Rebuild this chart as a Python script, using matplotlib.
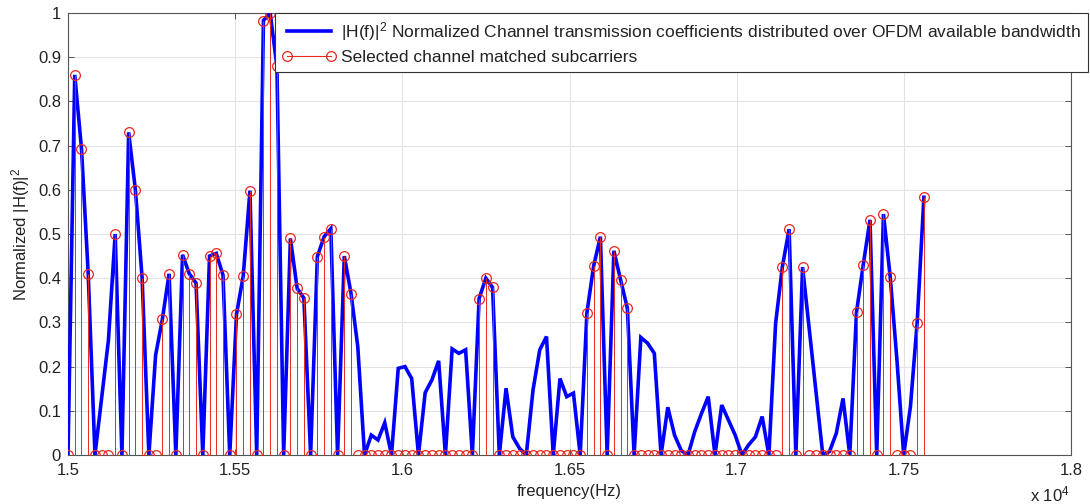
import numpy as np
import matplotlib
matplotlib.use("Agg")
import matplotlib.pyplot as plt
from matplotlib.lines import Line2D

# ---------------- data ----------------
freq_start = 15000.0      # Hz, first subcarrier
freq_stop = 17560.0       # Hz, last subcarrier
n_subcarriers = 128

h2 = [0, 0.86, 0.693, 0.41, 0, 0.13, 0.26, 0.50, 0, 0.73, 0.60, 0.40,
      0, 0.226, 0.307, 0.41, 0, 0.453, 0.41, 0.389, 0, 0.45, 0.456, 0.407,
      0, 0.318, 0.405, 0.598, 0, 0.983, 1.0, 0.879, 0, 0.49, 0.377, 0.355,
      0, 0.449, 0.494, 0.512, 0, 0.45, 0.365, 0.245, 0, 0.045, 0.034, 0.073,
      0, 0.196, 0.2, 0.173, 0, 0.141, 0.170, 0.213, 0, 0.24, 0.230, 0.238,
      0, 0.354, 0.40, 0.379, 0, 0.151, 0.041, 0.015, 0, 0.147, 0.238, 0.268,
      0, 0.173, 0.132, 0.14, 0, 0.322, 0.428, 0.494, 0, 0.462, 0.396, 0.332,
      0, 0.266, 0.253, 0.23, 0, 0.108, 0.045, 0.01, 0, 0.053, 0.094, 0.132,
      0, 0.113, 0.079, 0.045, 0, 0.023, 0.041, 0.087, 0, 0.298, 0.426, 0.511,
      0, 0.425, 0.283, 0.142, 0, 0.008, 0.049, 0.128, 0, 0.323, 0.43, 0.532,
      0, 0.545, 0.403, 0.215, 0, 0.109, 0.299, 0.583]

selected = [1, 2, 3, 7, 9, 10, 11, 14, 15, 17, 18, 19, 21, 22, 23, 25, 26, 27,
            29, 30, 31, 33, 34, 35, 37, 38, 39, 41, 42, 61, 62, 63, 77, 78, 79,
            81, 82, 83, 106, 107, 109, 117, 118, 119, 121, 122, 126, 127]

xtick_values = [15000, 15500, 16000, 16500, 17000, 17500, 18000]
xtick_labels = ["1.5", "1.55", "1.6", "1.65", "1.7", "1.75", "1.8"]
ytick_values = [0, 0.1, 0.2, 0.3, 0.4, 0.5, 0.6, 0.7, 0.8, 0.9, 1.0]
ytick_labels = ["0", "0.1", "0.2", "0.3", "0.4", "0.5", "0.6", "0.7", "0.8", "0.9", "1"]

label_line = r"|H(f)|$^2$ Normalized Channel transmission coefficients distributed over OFDM available bandwidth"
label_stem = "Selected channel matched subcarriers"

# ---------------- plot ----------------
plt.rcParams['font.family'] = ['Liberation Sans', 'DejaVu Sans']
plt.rcParams['mathtext.fontset'] = 'custom'
plt.rcParams['mathtext.rm'] = 'Liberation Sans'
plt.rcParams['mathtext.it'] = 'Liberation Sans'

W, H = 1090, 504
fig = plt.figure(figsize=(W / 100, H / 100), dpi=100)
left, right, top, bottom = 68, 1071, 13, 455
ax = fig.add_axes([left / W, 1 - bottom / H, (right - left) / W, (bottom - top) / H])

freqs = np.linspace(freq_start, freq_stop, n_subcarriers)
h2 = np.array(h2)
stem_vals = np.zeros_like(h2)
stem_vals[selected] = h2[selected]

ax.plot(freqs, h2, color=(0, 0, 1), lw=2.6, zorder=3, solid_joinstyle='miter')

red = '#e8291f'
ax.vlines(freqs, 0, stem_vals, color=red, lw=0.7, zorder=4)
ax.plot(freqs, stem_vals, ls='none', marker='o', ms=7, mfc='none', mec=red, mew=0.9, zorder=5)

ax.set_xlim(15000, 18000)
ax.set_ylim(0, 1)
ax.set_xticks(xtick_values)
ax.set_xticklabels(xtick_labels)
ax.set_yticks(ytick_values)
ax.set_yticklabels(ytick_labels)

ax.grid(True, color='#e3e3e3', lw=0.8, zorder=0)
ax.set_axisbelow(True)
for s in ax.spines.values():
    s.set_color('#555555')
    s.set_linewidth(0.8)
ax.tick_params(direction='in', length=4, width=0.7, color='#555555',
               labelsize=12, labelcolor='#222222', top=True, right=True)
ax.tick_params(axis='x', pad=6)
ax.tick_params(axis='y', pad=5)

ax.set_xlabel("frequency(Hz)", fontsize=12, color='#222222', labelpad=4)
ax.set_ylabel(r"Normalized |H(f)|$^2$", fontsize=12, color='#222222')
ax.yaxis.set_label_coords(-0.036, 0.5)

fig.text(1050 / W, 1 - 494 / H, r"x 10$^4$", fontsize=12, color='#222222',
         ha='center', va='center')

h_line = Line2D([], [], color=(0, 0, 1), lw=2.6)
h_stem = Line2D([], [], color=red, lw=0.8, marker='o', ms=7, mfc='none', mec=red,
                mew=0.9, markevery=[1])
leg = fig.legend([h_line, h_stem], [label_line, label_stem],
                 loc='upper left', bbox_to_anchor=(275 / W, 1 - 13 / H),
                 bbox_transform=fig.transFigure, borderaxespad=0,
                 fontsize=12.5, numpoints=2, handlelength=3.1, handletextpad=0.3,
                 labelspacing=0.4, borderpad=0.4, fancybox=False,
                 framealpha=1, edgecolor='#333333')
leg.get_frame().set_linewidth(0.8)
for t in leg.get_texts():
    t.set_color('#222222')

fig.savefig("out.png", dpi=100)
